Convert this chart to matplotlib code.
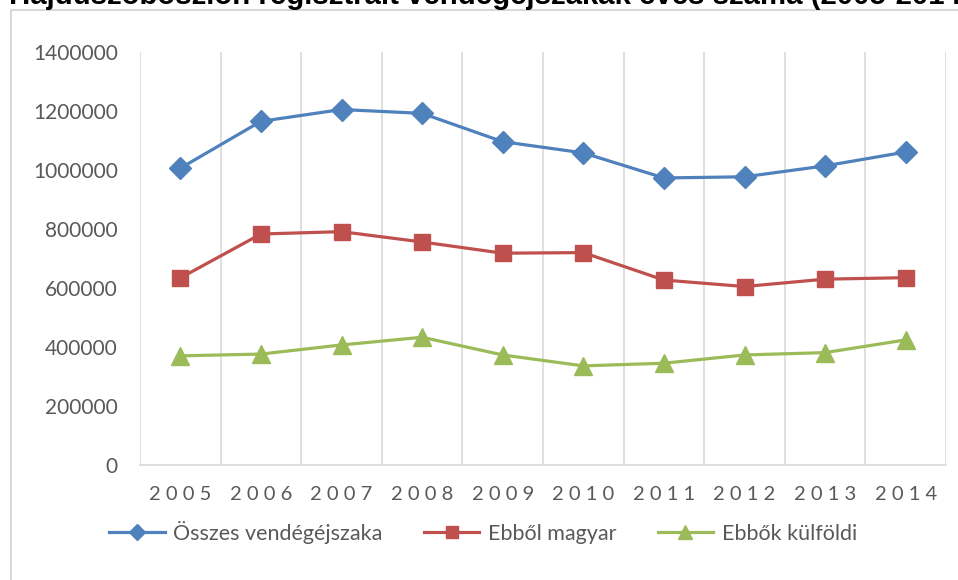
import matplotlib.pyplot as plt
from matplotlib.patches import Rectangle

# vendégéjszakák
years = ['2005', '2006', '2007', '2008', '2009', '2010', '2011', '2012', '2013', '2014']
osszes = [1006000, 1165000, 1205000, 1192000, 1096000, 1058000, 973000, 977000, 1014000, 1061000]
magyar = [634000, 783000, 791000, 756000, 718000, 720000, 627000, 605000, 630000, 635000]
kulfoldi = [370000, 376000, 407000, 433000, 373000, 336000, 345000, 373000, 381000, 424000]
yticks = [0, 200000, 400000, 600000, 800000, 1000000, 1200000, 1400000]

title = 'Hajdúszoboszlón regisztrált vendégéjszakák éves száma (2005-2014)'
names = ['Összes vendégéjszaka', 'Ebből magyar', 'Ebbők külföldi']

W, H = 958, 580
fig = plt.figure(figsize=(W / 100, H / 100), dpi=100)
plt.rcParams['font.family'] = ['Lato', 'DejaVu Sans']

# chart frame (runs off the right/bottom edge in the reference)
fig.patches.append(Rectangle((11 / W, -0.05), 1.0, 1 - 10 / H + 0.05, transform=fig.transFigure,
                             fill=False, edgecolor='#d9d9d9', linewidth=1.5))

# title, mostly cut off above the image
fig.text(9 / W, 1 - 4 / H, title, family='Liberation Sans', fontweight='bold',
         fontsize=21.2, color='black', ha='left', va='baseline')

ax = fig.add_axes([140 / W, 115 / H, (946 - 140) / W, (465 - 52) / H])

x = list(range(len(years)))
lw = 2.3
ax.plot(x, osszes, color='#4F81BD', lw=lw, marker='D', markersize=11, label=names[0])
ax.plot(x, magyar, color='#C0504D', lw=lw, marker='s', markersize=12, label=names[1])
ax.plot(x, kulfoldi, color='#9BBB59', lw=lw, marker='^', markersize=12.5, label=names[2])

ax.set_xlim(-0.5, len(years) - 0.5)
ax.set_ylim(0, 1400000)
ax.set_yticks(yticks)
ax.set_yticklabels([str(v) for v in yticks])
ax.set_xticks(x)
ax.set_xticklabels([' '.join(y) for y in years])

# vertical gridlines on the category boundaries
ax.set_xticks([i - 0.5 for i in range(len(years) + 1)], minor=True)
ax.grid(True, which='minor', axis='x', color='#d9d9d9', linewidth=1.2)
ax.set_axisbelow(True)

for s in ['top', 'right', 'left']:
    ax.spines[s].set_visible(False)
ax.spines['bottom'].set_color('#d9d9d9')
ax.spines['bottom'].set_linewidth(1.2)

ax.tick_params(axis='both', which='both', length=0, labelcolor='#595959')
ax.tick_params(axis='y', pad=16, labelsize=15)
ax.tick_params(axis='x', pad=15, labelsize=14.5)

fig.legend(loc='center', bbox_to_anchor=(483 / W, 1 - 532 / H), ncol=3, frameon=False,
           fontsize=15.5, labelcolor='#595959', handlelength=2.6, handletextpad=0.4,
           columnspacing=1.9, markerscale=0.75)

fig.savefig('out.png', dpi=100)
